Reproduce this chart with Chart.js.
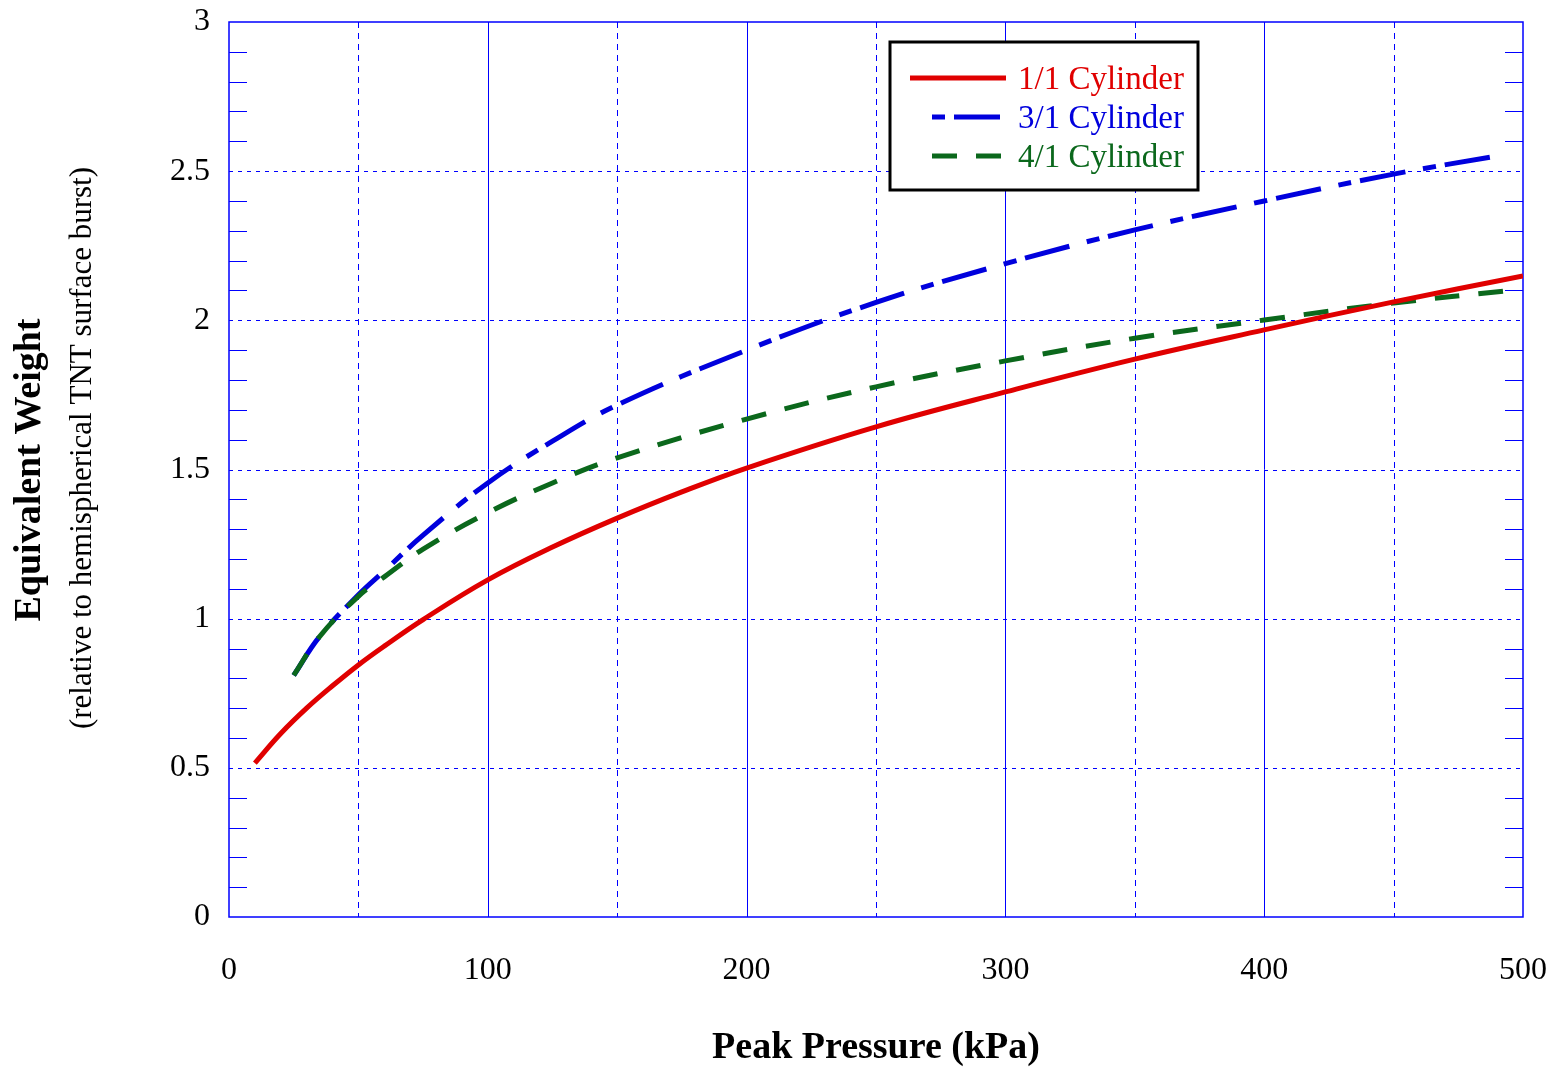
<!DOCTYPE html>
<html>
<head>
<meta charset="utf-8">
<script src="https://cdn.jsdelivr.net/npm/chart.js@4.4.0/dist/chart.umd.min.js"></script>
<style>
  html, body { margin: 0; padding: 0; background: #fff; }
</style>
</head>
<body>
<canvas id="myChart" width="1554" height="1067"></canvas>
<script>
// values
const seriesNames = ['1/1 Cylinder', '3/1 Cylinder', '4/1 Cylinder'];

const pressure11 = [10, 20, 30, 40, 50, 60, 75, 100, 125, 150, 175, 200, 250, 300, 350, 400, 450, 500];
const weight11 = [0.516, 0.615, 0.70, 0.775, 0.845, 0.908, 0.997, 1.13, 1.24, 1.337, 1.425, 1.505, 1.643, 1.76, 1.87, 1.968, 2.062, 2.149];

const pressure31 = [25, 35, 50, 60, 75, 100, 125, 150, 200, 250, 300, 350, 400, 450, 494];
const weight31 = [0.81, 0.94, 1.08, 1.16, 1.28, 1.455, 1.595, 1.716, 1.90, 2.06, 2.19, 2.303, 2.40, 2.49, 2.557];

const pressure41 = [25, 35, 50, 60, 75, 100, 125, 150, 200, 250, 300, 350, 400, 450, 495];
const weight41 = [0.81, 0.94, 1.075, 1.14, 1.233, 1.355, 1.455, 1.539, 1.669, 1.777, 1.864, 1.94, 2.001, 2.058, 2.10];

const xTicks = [0, 100, 200, 300, 400, 500];
const yTicks = [0, 0.5, 1, 1.5, 2, 2.5, 3];

const serif = '"Liberation Serif", "Times New Roman", serif';
const gridBlue = '#0000ff';

function toPoints(xs, ys) {
    return xs.map((x, i) => ({ x: x, y: ys[i] }));
}

// grid, minor ticks and frame drawn from the scales
const framePlugin = {
    id: 'frame',
    beforeDatasetsDraw(chart) {
        const c = chart.ctx;
        const a = chart.chartArea;
        const xs = chart.scales.x;
        const ys = chart.scales.y;
        c.save();
        c.strokeStyle = gridBlue;
        c.lineWidth = 1;

        // vertical grid lines, solid at 100s, dashed at 50s
        for (let v = 50; v < 500; v += 50) {
            const px = Math.round(xs.getPixelForValue(v)) + 0.5;
            c.setLineDash(v % 100 === 0 ? [] : [6, 5]);
            c.beginPath();
            c.moveTo(px, a.top);
            c.lineTo(px, a.bottom);
            c.stroke();
        }

        // horizontal dotted lines at the labelled values
        c.setLineDash([4, 5]);
        yTicks.forEach(v => {
            if (v === 0 || v === 3) return;
            const py = Math.round(ys.getPixelForValue(v)) + 0.5;
            c.beginPath();
            c.moveTo(a.left, py);
            c.lineTo(a.right, py);
            c.stroke();
        });

        // minor ticks every 0.1 on both sides
        c.setLineDash([]);
        for (let k = 1; k < 30; k++) {
            if (k % 5 === 0) continue;
            const py = Math.round(ys.getPixelForValue(k / 10)) + 0.5;
            c.beginPath();
            c.moveTo(a.left, py);
            c.lineTo(a.left + 18, py);
            c.moveTo(a.right - 18, py);
            c.lineTo(a.right, py);
            c.stroke();
        }

        // frame
        c.lineWidth = 1.5;
        c.strokeRect(a.left, a.top, a.right - a.left, a.bottom - a.top);
        c.restore();
    },
    afterDraw(chart) {
        const c = chart.ctx;
        const a = chart.chartArea;
        c.save();

        // axis titles
        c.fillStyle = '#000';
        c.textAlign = 'center';
        c.textBaseline = 'middle';
        c.font = 'bold 38px ' + serif;
        c.fillText('Peak Pressure (kPa)', (a.left + a.right) / 2, 1048);

        c.save();
        c.translate(30, 470);
        c.rotate(-Math.PI / 2);
        c.fillText('Equivalent Weight', 0, 0);
        c.restore();

        c.save();
        c.translate(83, 448);
        c.rotate(-Math.PI / 2);
        c.font = '31px ' + serif;
        c.fillText('(relative to hemispherical TNT surface burst)', 0, 0);
        c.restore();

        // legend box
        const bx = a.left + 661, by = a.top + 20, bw = 308, bh = 148;
        c.fillStyle = '#fff';
        c.fillRect(bx, by, bw, bh);
        c.strokeStyle = '#000';
        c.lineWidth = 3;
        c.strokeRect(bx, by, bw, bh);

        c.font = '33px ' + serif;
        c.textAlign = 'left';
        chart.data.datasets.forEach((ds, i) => {
            const ly = by + 36 + i * 39;
            c.strokeStyle = ds.borderColor;
            c.lineWidth = 5;
            c.setLineDash(ds.borderDash || []);
            c.lineDashOffset = ds.legendDashOffset || 0;
            c.beginPath();
            c.moveTo(i === 0 ? bx + 20 : bx + 42, ly);
            c.lineTo(bx + 116, ly);
            c.stroke();
            c.setLineDash([]);
            c.fillStyle = ds.borderColor;
            c.fillText(ds.label, bx + 128, ly + 2);
        });
        c.restore();
    }
};

const ctx = document.getElementById('myChart').getContext('2d');

const myChart = new Chart(ctx, {
    type: 'line',
    data: {
        datasets: [{
            label: seriesNames[0],
            data: toPoints(pressure11, weight11),
            borderColor: '#e00000',
            borderWidth: 5,
            tension: 0.4,
            pointRadius: 0,
            order: 0
        }, {
            label: seriesNames[1],
            data: toPoints(pressure31, weight31),
            borderColor: '#0000dd',
            borderWidth: 5,
            borderDash: [46, 18, 13, 9],
            legendDashOffset: 64,
            tension: 0.4,
            pointRadius: 0,
            order: 2
        }, {
            label: seriesNames[2],
            data: toPoints(pressure41, weight41),
            borderColor: '#0b681c',
            borderWidth: 5,
            borderDash: [25, 19],
            tension: 0.4,
            pointRadius: 0,
            order: 1
        }]
    },
    options: {
        responsive: false,
        animation: false,
        layout: { padding: { top: 22, right: 31, left: 0, bottom: 0 } },
        plugins: {
            legend: { display: false },
            tooltip: { enabled: false }
        },
        scales: {
            x: {
                type: 'linear',
                min: 0,
                max: 500,
                afterFit: s => { s.height = 150; s.paddingLeft = 0; s.paddingRight = 0; },
                afterBuildTicks: s => { s.ticks = xTicks.map(v => ({ value: v })); },
                grid: { display: false, drawTicks: false },
                border: { display: false },
                ticks: {
                    padding: 34,
                    color: '#000',
                    maxRotation: 0,
                    font: { family: serif, size: 32 },
                    callback: v => String(v)
                }
            },
            y: {
                type: 'linear',
                min: 0,
                max: 3,
                afterFit: s => { s.width = 229; s.paddingTop = 0; s.paddingBottom = 0; },
                afterBuildTicks: s => { s.ticks = yTicks.map(v => ({ value: v })); },
                grid: { display: false, drawTicks: false },
                border: { display: false },
                ticks: {
                    padding: 19,
                    color: '#000',
                    font: { family: serif, size: 32 },
                    callback: v => String(v)
                }
            }
        }
    },
    plugins: [framePlugin]
});
</script>
</body>
</html>
